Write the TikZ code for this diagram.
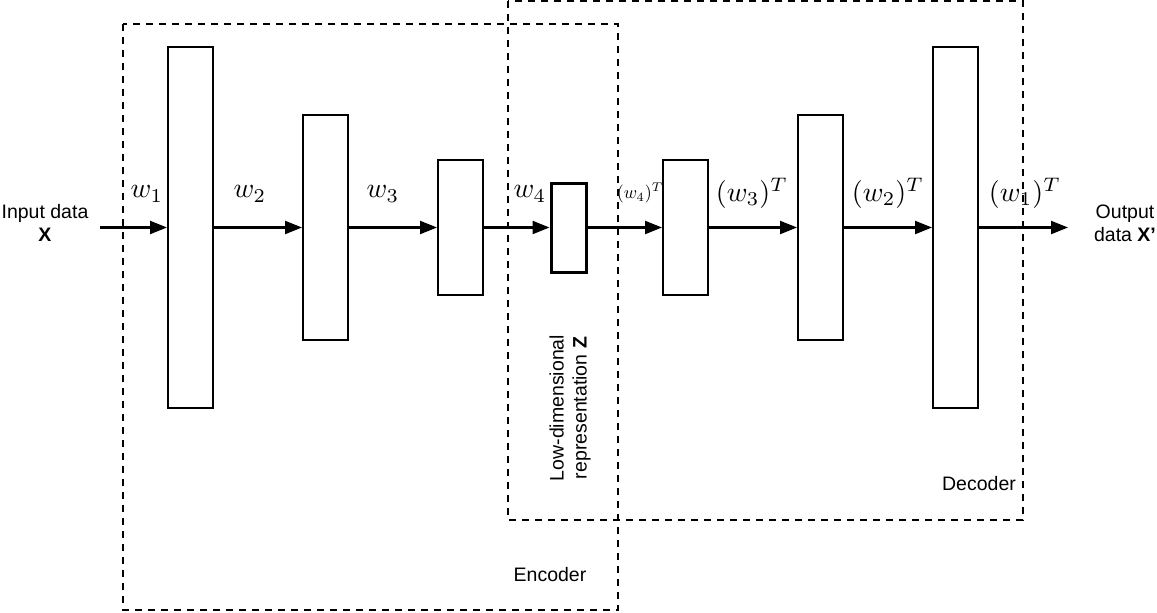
\documentclass[tikz,border=0pt]{standalone}
\usepackage{fontspec}
\setsansfont{Liberation Sans}
\usetikzlibrary{arrows.meta}
\begin{document}
\begin{tikzpicture}[x=1pt,y=-1pt,
  layer/.style={draw=black,line width=2pt,fill=white,inner sep=0pt,minimum width=45pt},
  midlayer/.style={draw=black,line width=3pt,fill=white,inner sep=0pt,minimum width=35pt,minimum height=89pt},
  conn/.style={line width=2.2pt,-{Triangle[length=17pt,width=13pt]}},
  grp/.style={draw=black,line width=1.7pt,dash pattern=on 7pt off 6pt},
  lbl/.style={font=\sffamily\fontsize{19.5}{23}\selectfont,align=center},
  wl/.style={scale=2.8},
  wls/.style={scale=1.8}]
\useasboundingbox (0,0) rectangle (1157,613);
% groups
\draw[grp] (123,24) rectangle (618,610);
\draw[grp] (508,1) rectangle (1023,520);
% layers
\node[layer,minimum height=361pt] (l1) at (190.5,227.5) {};
\node[layer,minimum height=225pt] (l2) at (325.5,227.5) {};
\node[layer,minimum height=135pt] (l3) at (460.5,227.5) {};
\node[midlayer] (z) at (568.5,227.5) {};
\node[layer,minimum height=135pt] (l5) at (685.5,227.5) {};
\node[layer,minimum height=225pt] (l6) at (820.5,227.5) {};
\node[layer,minimum height=361pt] (l7) at (955.5,227.5) {};
% endpoints
\coordinate (in) at (100,227.5);
\coordinate (out) at (1068,227.5);
% connectors
\draw[conn] (in) -- (l1.west);
\draw[conn] (l1.east) -- (l2.west);
\draw[conn] (l2.east) -- (l3.west);
\draw[conn] (l3.east) -- (z.west);
\draw[conn] (z.east) -- (l5.west);
\draw[conn] (l5.east) -- (l6.west);
\draw[conn] (l6.east) -- (l7.west);
\draw[conn] (l7.east) -- (out);
% weight labels
\node[wl] (w1) at (147,194) {$w_1$};
\node[wl] (w2) at (250,194) {$w_2$};
\node[wl] (w3) at (383,194) {$w_3$};
\node[wl] (w4) at (530,194) {$w_4$};
\node[wls] (w4t) at (640,193) {$(w_4)^T$};
\node[wl] (w3t) at (752,193) {$(w_3)^T$};
\node[wl] (w2t) at (888,193) {$(w_2)^T$};
\node[wl] (w1t) at (1025,193) {$(w_1)^T$};
% text labels
\node[lbl] (inlbl) at (45,223) {Input data\\\textbf{X}};
\node[lbl] (outlbl) at (1125,223) {Output\\data \textbf{X\char"27}};
\node[lbl,rotate=90] (zlbl) at (570,408) {Low-dimensional\\representation \textbf{Z}};
\node[lbl] (enc) at (550,575) {Encoder};
\node[lbl] (dec) at (979,484) {Decoder};
\end{tikzpicture}
\end{document}
